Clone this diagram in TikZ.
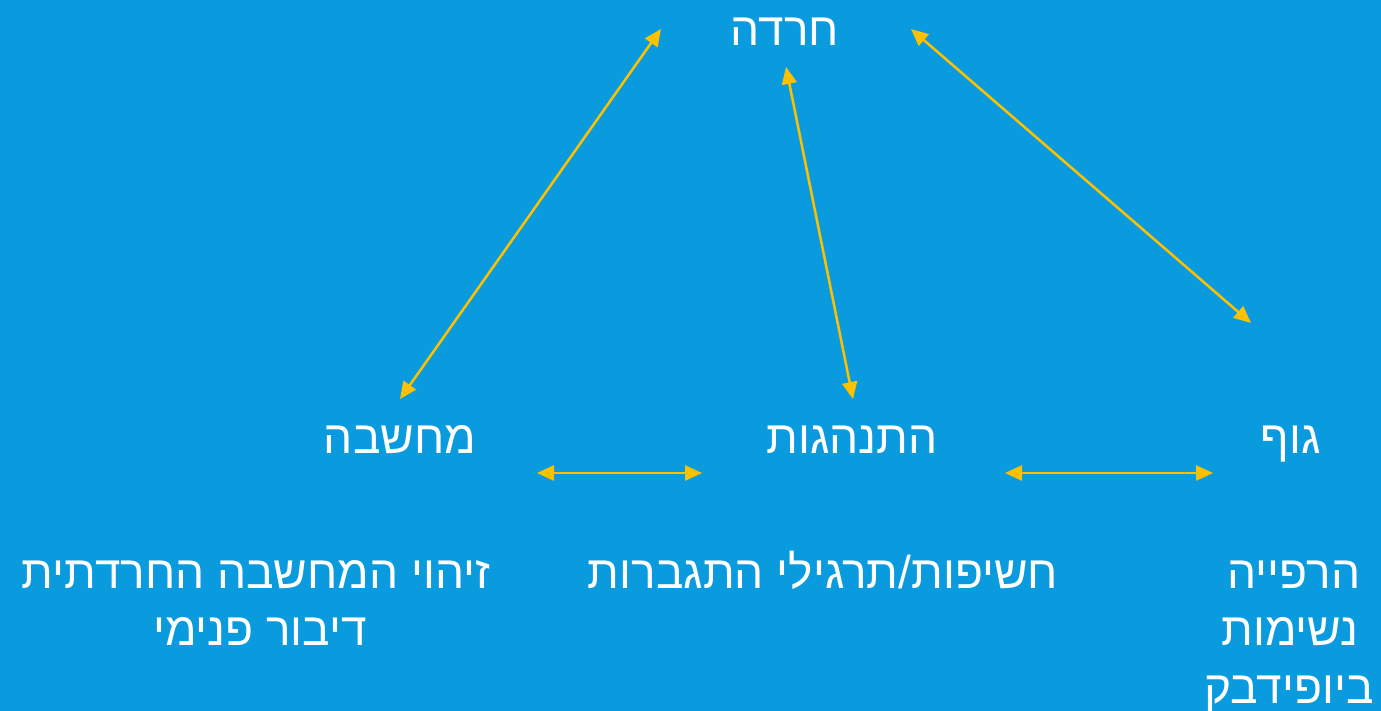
\documentclass[tikz,border=0pt]{standalone}
\usepackage{fontspec}
\usetikzlibrary{arrows.meta}
\TeXXeTstate=1
\newfontfamily\hebfont[Script=Hebrew]{Liberation Sans}
\definecolor{bgblue}{HTML}{0A9BDE}
\definecolor{gold}{HTML}{FFC000}
\tikzset{
  lbl/.style={text=white, font=\hebfont\fontsize{46}{57}\selectfont, inner sep=0pt, anchor=base},
  link/.style={draw=gold, line width=2.5pt, {Triangle[length=17pt,width=15pt]}-{Triangle[length=17pt,width=15pt]}}
}
\begin{document}
\begin{tikzpicture}[x=1pt,y=-1pt]
\fill[bgblue] (0,0) rectangle (1381,711);
\useasboundingbox (0,0) rectangle (1381,711);
\node[lbl] (anx) at (785,46) {\beginR חרדה\endR};
\node[lbl] (thought) at (400,453) {\beginR מחשבה\endR};
\node[lbl] (behav) at (852,453) {\beginR התנהגות\endR};
\node[lbl] (body) at (1291,453) {\beginR גוף\endR};
\node[lbl] (t1a) at (256,588) {\beginR זיהוי המחשבה החרדתית\endR};
\node[lbl] (t1b) at (260,645) {\beginR דיבור פנימי\endR};
\node[lbl] (t2) at (823,588) {\beginR חשיפות/תרגילי התגברות\endR};
\node[lbl] (t3a) at (1294,588) {\beginR הרפייה\endR};
\node[lbl] (t3b) at (1290,645) {\beginR נשימות\endR};
\node[lbl] (t3c) at (1289,703) {\beginR ביופידבק\endR};
\coordinate (a1) at (661,29);
\coordinate (b1) at (400,399);
\coordinate (a2) at (786,67);
\coordinate (b2) at (853,399);
\coordinate (a3) at (911,29);
\coordinate (b3) at (1251,323);
\coordinate (a4) at (537,473);
\coordinate (b4) at (702,473);
\coordinate (a5) at (1005,473);
\coordinate (b5) at (1213,473);
\draw[link] (a1) -- (b1);
\draw[link] (a2) -- (b2);
\draw[link] (a3) -- (b3);
\draw[link] (a4) -- (b4);
\draw[link] (a5) -- (b5);
\end{tikzpicture}
\end{document}
